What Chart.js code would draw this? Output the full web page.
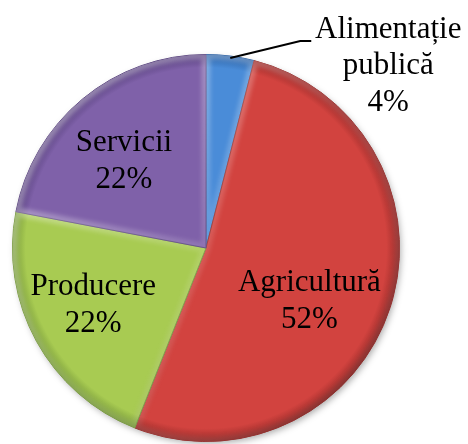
<!DOCTYPE html>
<html>
<head>
<meta charset="utf-8">
<script src="https://cdn.jsdelivr.net/npm/chart.js@4.4.0/dist/chart.umd.min.js"></script>
<style>
  body { margin: 0; background: #fff; }
  #wrap { width: 468px; height: 444px; position: relative; }
</style>
</head>
<body>
<div id="wrap"><canvas id="pieChart"></canvas></div>
<script>
var labels = ["Alimentație publică", "Agricultură", "Producere", "Servicii"];
var values = [4, 52, 22, 22];
var colors = ['#4a8cd8', '#d2433f', '#a8cb52', '#7f61a9'];
var edges = ['#2d62a4', '#982b29', '#76983a', '#563f7c'];

// where each slice's text goes: fraction of the radius plus a small nudge,
// the small slice gets its label outside with a leader line
var placement = [
    { outside: true },
    { k: 0.6, dx: -7, dy: 17.5 },
    { k: 0.6, dx: -11, dy: 1.5 },
    { k: 0.6, dx: -8, dy: 3 }
];

function sliceFill(context) {
    var i = context.dataIndex;
    var area = context.chart.chartArea;
    if (!area) return colors[i];
    var cx = (area.left + area.right) / 2;
    var cy = (area.top + area.bottom) / 2;
    var r = Math.min(area.width, area.height) / 2;
    var g = context.chart.ctx.createRadialGradient(cx, cy, 0, cx, cy, r);
    g.addColorStop(0, colors[i]);
    g.addColorStop(0.93, colors[i]);
    g.addColorStop(1, edges[i]);
    return g;
}

const pieShadow = {
    id: 'pieShadow',
    beforeDatasetsDraw(chart) {
        var arc = chart.getDatasetMeta(0).data[0];
        if (!arc) return;
        var ctx = chart.ctx;
        ctx.save();
        ctx.shadowColor = 'rgba(0,0,0,0.35)';
        ctx.shadowBlur = 7;
        ctx.shadowOffsetX = 2;
        ctx.shadowOffsetY = 3;
        ctx.fillStyle = '#fff';
        ctx.beginPath();
        ctx.arc(arc.x, arc.y, arc.outerRadius - 1, 0, Math.PI * 2);
        ctx.fill();
        ctx.restore();
    }
};

// soft bevel: light rim on the upper-left edges of each slice, dark on the lower-right
const sliceBevel = {
    id: 'sliceBevel',
    afterDatasetsDraw(chart) {
        var ctx = chart.ctx;
        chart.getDatasetMeta(0).data.forEach(arc => {
            var p = arc.getProps(['x', 'y', 'startAngle', 'endAngle', 'outerRadius'], true);
            var r = p.outerRadius;
            ctx.save();
            ctx.beginPath();
            ctx.moveTo(p.x, p.y);
            ctx.arc(p.x, p.y, r, p.startAngle, p.endAngle);
            ctx.closePath();
            ctx.clip();
            var g = ctx.createLinearGradient(p.x - r, p.y - r, p.x + r, p.y + r);
            g.addColorStop(0, 'rgba(255,255,255,0.45)');
            g.addColorStop(0.5, 'rgba(255,255,255,0.12)');
            g.addColorStop(1, 'rgba(0,0,0,0.25)');
            ctx.filter = 'blur(2px)';
            ctx.strokeStyle = g;
            ctx.lineWidth = 9;
            ctx.lineJoin = 'round';
            ctx.stroke();
            ctx.restore();
        });
    }
};

const sliceLabels = {
    id: 'sliceLabels',
    afterDatasetsDraw(chart) {
        var ctx = chart.ctx;
        var meta = chart.getDatasetMeta(0);
        var data = chart.data.datasets[0].data;
        var total = data.reduce((a, b) => a + b, 0);
        ctx.save();
        ctx.font = '31px "Liberation Serif", "Times New Roman", serif';
        ctx.fillStyle = '#000';
        ctx.textAlign = 'center';
        ctx.textBaseline = 'middle';
        meta.data.forEach((arc, i) => {
            var p = arc.getProps(['x', 'y', 'startAngle', 'endAngle', 'outerRadius'], true);
            var mid = (p.startAngle + p.endAngle) / 2;
            var lines = chart.data.labels[i].split(' ');
            lines.push(Math.round(data[i] / total * 100) + '%');
            var place = placement[i];
            var cx, cy;
            if (place.outside) {
                var ex = p.x + Math.cos(mid) * p.outerRadius;
                var ey = p.y + Math.sin(mid) * p.outerRadius;
                ctx.beginPath();
                ctx.moveTo(ex, ey + 2);
                ctx.lineTo(ex + 70, ey - 15);
                ctx.lineTo(ex + 81, ey - 15);
                ctx.lineWidth = 2;
                ctx.strokeStyle = '#000';
                ctx.stroke();
                cx = ex + 158;
                cy = ey + 10;
            } else {
                cx = p.x + Math.cos(mid) * p.outerRadius * place.k + place.dx;
                cy = p.y + Math.sin(mid) * p.outerRadius * place.k + place.dy;
            }
            lines.forEach((t, j) => {
                ctx.fillText(t, cx, cy + (j - (lines.length - 1) / 2) * 36.5);
            });
        });
        ctx.restore();
    }
};

new Chart(document.getElementById('pieChart'), {
    type: 'pie',
    data: {
        labels: labels,
        datasets: [{
            data: values,
            backgroundColor: sliceFill,
            borderColor: edges,
            borderWidth: 1
        }]
    },
    options: {
        responsive: true,
        maintainAspectRatio: false,
        animation: false,
        layout: { padding: { left: 12, right: 68, top: 54, bottom: 2 } },
        plugins: {
            legend: { display: false },
            tooltip: { enabled: false }
        }
    },
    plugins: [pieShadow, sliceBevel, sliceLabels]
});
</script>
</body>
</html>
